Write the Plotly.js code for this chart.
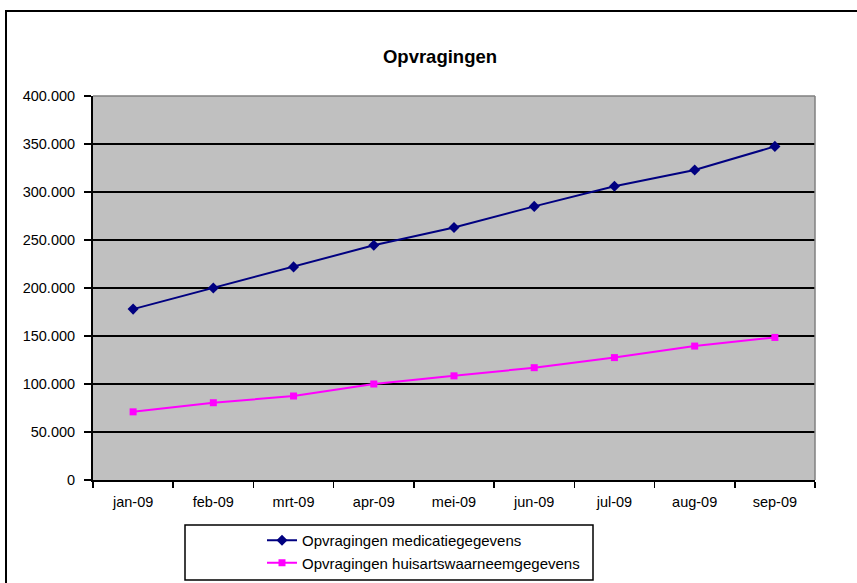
<!DOCTYPE html>
<html>
<head>
<meta charset="utf-8">
<script src="https://cdn.plot.ly/plotly-3.0.1.min.js"></script>
<style>
html,body{margin:0;padding:0;background:#fff;}
#frame{position:absolute;left:5px;top:10px;width:900px;height:600px;border:2px solid #000;box-sizing:border-box;}
#chart{position:absolute;left:0;top:0;width:857px;height:583px;}
</style>
</head>
<body>
<div id="frame"></div>
<div id="chart"></div>
<script>
const months = ["jan-09","feb-09","mrt-09","apr-09","mei-09","jun-09","jul-09","aug-09","sep-09"];
const medicatie = [178000, 200000, 222000, 244500, 263000, 285000, 306000, 323000, 347500];
const waarneem = [71000, 80500, 87500, 100000, 108500, 117000, 127500, 139500, 148500];
const yTicks = [0, 50000, 100000, 150000, 200000, 250000, 300000, 350000, 400000];

const L = 93, R = 815, T = 96, B = 480, W = 857, H = 583;

const traces = [
  {x: months, y: medicatie, name: "Opvragingen medicatiegegevens", type: "scatter", mode: "lines+markers",
   line: {color: "#000080", width: 2}, marker: {symbol: "diamond", size: 8.5, color: "#000080"}},
  {x: months, y: waarneem, name: "Opvragingen huisartswaarneemgegevens", type: "scatter", mode: "lines+markers",
   line: {color: "#FF00FF", width: 2}, marker: {symbol: "square", size: 7, color: "#FF00FF"}}
];

const pw = R - L, ph = B - T;
const px = v => (v - L) / pw;
const py = v => (B - v) / ph;

const layout = {
  width: W, height: H,
  margin: {l: L, r: W - R, t: T, b: H - B, pad: 0, autoexpand: false},
  paper_bgcolor: "rgba(0,0,0,0)",
  plot_bgcolor: "#C0C0C0",
  separators: ",.",
  font: {family: "Liberation Sans, Arial, sans-serif", size: 14, color: "#000"},
  title: {text: "<b>Opvragingen</b>", font: {size: 18.5, color: "#000"}, xref: "container", x: 440 / W, xanchor: "center", yref: "container", y: 1 - 57 / H, yanchor: "middle"},
  xaxis: {type: "category", range: [-0.5, 8.5], showgrid: false, zeroline: false, showline: true, linecolor: "#000", linewidth: 2,
          ticks: "outside", ticklen: 6, tickcolor: "#000", tickwidth: 1.5, tickson: "boundaries", tickfont: {size: 14.5},
          ticklabelstandoff: 8, fixedrange: true},
  yaxis: {range: [0, 400000], tickvals: yTicks, tickformat: ",.0f", showgrid: true, gridcolor: "#000", gridwidth: 1.5,
          zeroline: false, showline: true, linecolor: "#000", linewidth: 2, ticks: "outside", ticklen: 7, tickcolor: "#000", tickwidth: 1.5,
          tickfont: {size: 14.5}, ticklabelstandoff: 6, fixedrange: true},
  showlegend: true,
  legend: {x: px(262), y: py(524), xanchor: "left", yanchor: "top", bgcolor: "rgba(0,0,0,0)", borderwidth: 0,
           font: {size: 15, color: "#000"}, tracegroupgap: 0, itemwidth: 30},
  shapes: [
    {type: "line", xref: "paper", yref: "paper", x0: 0, x1: 1, y0: 1, y1: 1, line: {color: "#808080", width: 1.5}},
    {type: "line", xref: "paper", yref: "paper", x0: 1, x1: 1, y0: 0, y1: 1, line: {color: "#808080", width: 1.5}},
    {type: "rect", xref: "paper", yref: "paper", x0: px(185), x1: px(593), y0: py(525), y1: py(580), line: {color: "#000", width: 1.5}, fillcolor: "rgba(0,0,0,0)"}
  ]
};

Plotly.newPlot("chart", traces, layout, {displayModeBar: false, staticPlot: true});
</script>
</body>
</html>
